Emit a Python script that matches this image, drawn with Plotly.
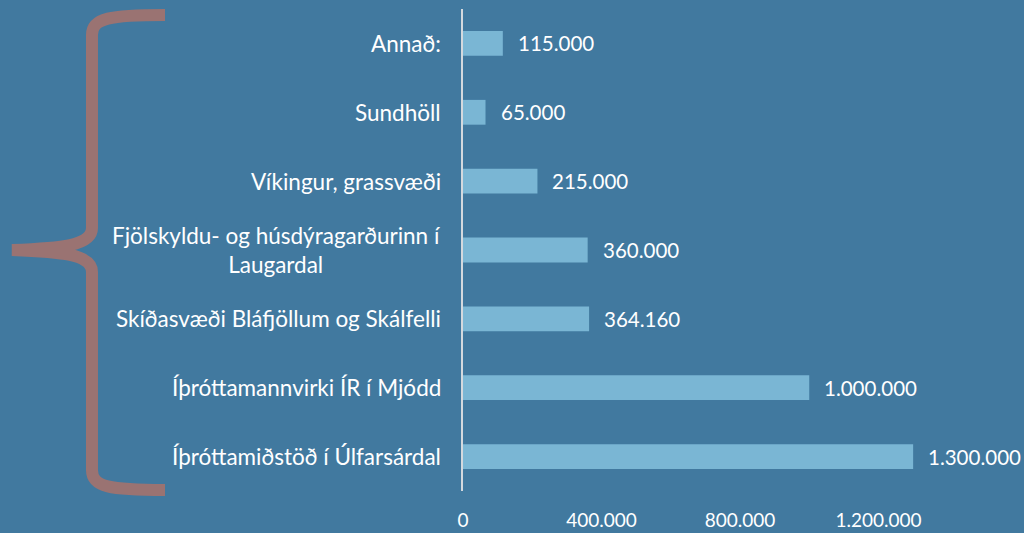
import plotly.graph_objects as go

# Données (de haut en bas)
categories = [
    "Annað:",
    "Sundhöll",
    "Víkingur, grassvæði",
    "Fjölskyldu- og húsdýragarðurinn í<br>Laugardal",
    "Skíðasvæði Bláfjöllum og Skálfelli",
    "Íþróttamannvirki ÍR í Mjódd",
    "Íþróttamiðstöð í Úlfarsárdal",
]
values = [115000, 65000, 215000, 360000, 364160, 1000000, 1300000]
tick_values = [0, 400000, 800000, 1200000]

BG = "#41799F"
BAR = "#7AB6D4"
BRACE = "#9A7372"
FONT = "Lato"

W, H = 1024, 533
M_L, M_R, M_T, M_B = 463, 7, 9, 42
PW, PH = W - M_L - M_R, H - M_T - M_B


def px_to_paper(x, y):
    return (x - M_L) / PW, (M_T + PH - y) / PH


def dot(v):
    return f"{v:,}".replace(",", ".")


fig = go.Figure(
    go.Bar(
        x=values,
        y=categories,
        orientation="h",
        marker=dict(color=BAR, line=dict(width=0)),
        width=0.36,
        hoverinfo="x+y",
    )
)

# étiquettes des valeurs
for cat, v in zip(categories, values):
    fig.add_annotation(
        x=v, y=cat, xref="x", yref="y", text=dot(v), showarrow=False,
        xanchor="left", xshift=13, font=dict(family=FONT, size=20.5, color="white"),
    )

# étiquettes des catégories (centrées sur plusieurs lignes)
for cat in categories:
    fig.add_annotation(
        x=0, y=cat, xref="paper", yref="y", text=cat, showarrow=False,
        xanchor="right", xshift=-20, align="center",
        font=dict(family=FONT, size=22.5, color="white"),
    )

# accolade décorative à gauche
pts = [
    (165, 15), (110, 15), (92, 18), (92, 35),
    (92, 228),
    (92, 246), (60, 248), (12, 250),
    (60, 252), (92, 254), (92, 272),
    (92, 470),
    (92, 487), (110, 490), (165, 490),
]
p = [px_to_paper(x, y) for x, y in pts]
f = lambda q: f"{q[0]:.4f},{q[1]:.4f}"
path = (
    f"M {f(p[0])} C {f(p[1])} {f(p[2])} {f(p[3])} L {f(p[4])} "
    f"C {f(p[5])} {f(p[6])} {f(p[7])} C {f(p[8])} {f(p[9])} {f(p[10])} "
    f"L {f(p[11])} C {f(p[12])} {f(p[13])} {f(p[14])}"
)
fig.add_shape(
    type="path", path=path, xref="paper", yref="paper",
    line=dict(color=BRACE, width=12), layer="above",
)

fig.update_layout(
    width=W, height=H,
    margin=dict(l=M_L, r=M_R, t=M_T, b=M_B),
    paper_bgcolor=BG, plot_bgcolor=BG,
    separators=",.",
    showlegend=False,
    font=dict(family=FONT, size=19, color="white"),
    xaxis=dict(
        range=[0, 1600000], tickvals=tick_values,
        ticktext=[dot(v) for v in tick_values],
        showgrid=False, zeroline=False, showline=False,
        tickfont=dict(family=FONT, size=19, color="white"),
        ticklabelstandoff=16, automargin=False,
    ),
    yaxis=dict(
        autorange="reversed", showticklabels=False, showgrid=False,
        zeroline=False, showline=True, linecolor="#D4D9DE", linewidth=2,
        automargin=False,
    ),
)

fig.write_html(
    "out.html",
    config={"displayModeBar": False},
    post_script="document.body.style.margin='0';document.body.style.overflow='hidden';",
)
